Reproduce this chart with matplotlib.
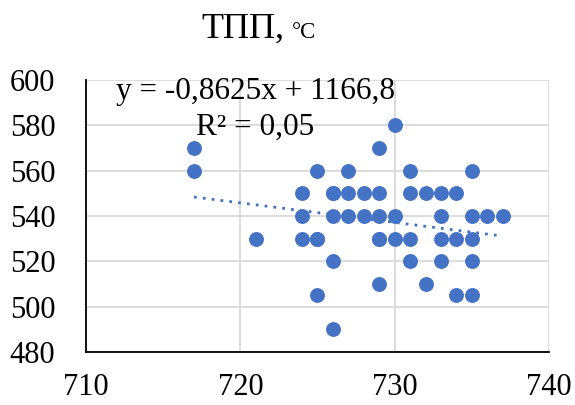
import matplotlib
matplotlib.use("Agg")
import matplotlib.pyplot as plt
import numpy as np

# Measurements: x value and ТПП (°C)
x_vals = [717, 717, 721,
          724, 724, 724,
          725, 725, 725, 725,
          726, 726, 726, 726, 726,
          727, 727, 727,
          728, 728,
          729, 729, 729, 729, 729, 729,
          730, 730, 730,
          731, 731, 731, 731,
          732, 732,
          733, 733, 733, 733,
          734, 734, 734,
          735, 735, 735, 735, 735,
          736, 737]
y_vals = [570, 560, 530,
          550, 540, 530,
          560, 530, 505, 530,
          550, 540, 520, 490, 550,
          560, 550, 540,
          550, 540,
          570, 550, 540, 530, 510, 530,
          580, 540, 530,
          560, 550, 530, 520,
          550, 510,
          550, 540, 530, 520,
          550, 530, 505,
          560, 540, 530, 520, 505,
          540, 540]

# Linear trend reported on the chart
slope = -0.8625
intercept = 1166.8
r2 = 0.05

title_main = "ТПП,"
title_unit = "°C"
x_ticks = [710, 720, 730, 740]
y_ticks = [480, 500, 520, 540, 560, 580, 600]

blue = "#4472C4"
plt.rcParams['font.family'] = ['Liberation Serif', 'DejaVu Serif']

W, H = 575, 405
fig = plt.figure(figsize=(W/100, H/100), dpi=100)
ax = fig.add_axes([86/W, 1 - 352/H, (549-86)/W, (352-80)/H])

ax.scatter(x_vals, y_vals, s=115, color=blue, zorder=3, linewidths=0)

tx = np.array([min(x_vals), max(x_vals)], dtype=float)
ax.plot(tx, slope*tx + intercept, linestyle=(0, (1, 2.2)), color=blue,
        linewidth=2.0, zorder=2)

ax.set_xlim(710, 740)
ax.set_ylim(480, 600)
ax.set_xticks(x_ticks)
ax.set_yticks(y_ticks)
ax.tick_params(length=0, labelsize=22, colors='black')
ax.tick_params(axis='y', pad=22)
ax.tick_params(axis='x', pad=15)
ax.grid(True, color='#D9D9D9', linewidth=1.3)
ax.set_axisbelow(True)
for s in ['top', 'right']:
    ax.spines[s].set_visible(False)
for s in ['left', 'bottom']:
    ax.spines[s].set_color('black')
    ax.spines[s].set_linewidth(1.3)

eq = f"y = {slope:.4f}x + {intercept:.1f}".replace('.', ',')
fig.text(255/W, 1 - 92/H, eq, ha='center', va='center', fontsize=22.5)
fig.text(255/W, 1 - 127/H, f"R² = {r2:.2f}".replace('.', ','),
         ha='center', va='center', fontsize=22.5)

fig.text(284/W, 1 - 38/H, title_main, ha='right', va='baseline', fontsize=26)
fig.text(292/W, 1 - 38/H, title_unit, ha='left', va='baseline', fontsize=16.5)

fig.savefig("out.png", dpi=100)
